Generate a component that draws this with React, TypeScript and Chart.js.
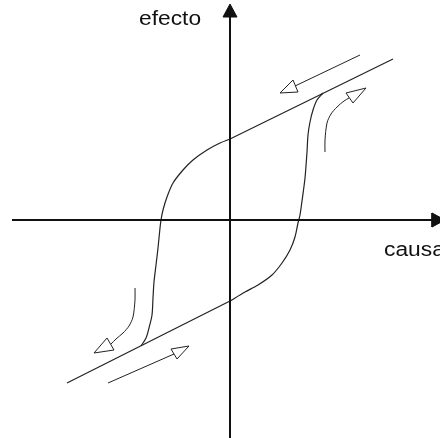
import React, { useEffect, useRef } from "react";
import { Chart, registerables } from "chart.js";

Chart.register(...registerables);

// Hysteresis loop (coordinates relative to the origin, y up)
const upperLine: number[][] = [[163, 161], [0, 81]];
const upperCurve: number[][] = [[0, 81], [-10, 77], [-23, 70], [-37, 60], [-47, 50], [-57, 37], [-63, 23], [-67, 10], [-69, 0], [-70, -8], [-72, -28], [-74, -45], [-76, -62], [-77, -78], [-78, -95], [-81, -108], [-84, -118], [-89, -126]];
const lowerLine: number[][] = [[-163, -163], [0, -81]];
const lowerCurve: number[][] = [[0, -81], [15, -72], [28, -65], [42, -55], [52, -43], [60, -30], [65, -17], [68, -3], [70, 5], [72, 19], [75, 42], [77, 68], [78, 85], [80, 98], [83, 110], [87, 120], [93, 127]];

// Direction arrows
const arrow1Shaft: number[][] = [[130, 165], [65, 134]];
const arrow1Head: number[][] = [[50, 127], [63, 140], [68, 128], [50, 127]];
const arrow2Shaft: number[][] = [[95, 68], [95, 80], [97, 97], [101, 106], [107, 113], [114, 119], [119, 122]];
const arrow2Head: number[][] = [[136, 132], [116, 127], [123, 117], [136, 132]];
const arrow3Shaft: number[][] = [[-95, -68], [-95, -80], [-97, -97], [-101, -106], [-107, -113], [-114, -119], [-119, -124]];
const arrow3Head: number[][] = [[-136, -133], [-123, -118], [-116, -130], [-136, -133]];
const arrow4Shaft: number[][] = [[-122, -163], [-56, -134]];
const arrow4Head: number[][] = [[-41, -126], [-59, -129], [-53, -139], [-41, -126]];

// Axes
const vAxis: number[][] = [[0, -218], [0, 203]];
const vHead: number[][] = [[0, 216], [-7, 203], [7, 203], [0, 216]];
const hAxis: number[][] = [[-218, 0], [202, 0]];
const hHead: number[][] = [[215, 0], [202, 7], [202, -7], [215, 0]];

// Axis titles
const axisLabels = [
  { text: "efecto", x: -91, y: 195 },
  { text: "causa", x: 154, y: -36 },
];

const toPts = (a: number[][]) => a.map(([x, y]) => ({ x, y }));

const LINE = "#222";
const AXIS = "#111";

function ds(pts: number[][], opts: any = {}) {
  return {
    data: toPts(pts),
    showLine: true,
    borderColor: LINE,
    borderWidth: 1.2,
    pointRadius: 0,
    pointHoverRadius: 0,
    tension: 0,
    fill: false,
    ...opts,
  };
}

const labelPlugin = {
  id: "labels",
  afterDraw(chart: any) {
    const ctx = chart.ctx;
    const xs = chart.scales.x;
    const ys = chart.scales.y;
    ctx.save();
    ctx.fillStyle = AXIS;
    ctx.font = '20px "Liberation Sans", Arial, sans-serif';
    ctx.textBaseline = "alphabetic";
    ctx.textAlign = "left";
    for (const l of axisLabels) {
      const px = xs.getPixelForValue(l.x);
      const py = ys.getPixelForValue(l.y);
      ctx.save();
      ctx.translate(px, py);
      ctx.scale(1.14, 1);
      ctx.fillText(l.text, 0, 0);
      ctx.restore();
    }
    ctx.restore();
  },
};

export default function App() {
  const ref = useRef<HTMLCanvasElement>(null);
  useEffect(() => {
    if (!ref.current) return;
    const chart = new Chart(ref.current, {
      type: "scatter",
      data: {
        datasets: [
          ds(vAxis, { borderColor: AXIS, borderWidth: 2 }),
          ds(vHead, { borderColor: AXIS, borderWidth: 1, fill: "shape", backgroundColor: AXIS }),
          ds(hAxis, { borderColor: AXIS, borderWidth: 2 }),
          ds(hHead, { borderColor: AXIS, borderWidth: 1, fill: "shape", backgroundColor: AXIS }),
          ds(upperLine),
          ds(upperCurve, { tension: 0.3 }),
          ds(lowerLine),
          ds(lowerCurve, { tension: 0.3 }),
          ds(arrow1Shaft, { borderWidth: 1 }),
          ds(arrow1Head, { borderWidth: 1 }),
          ds(arrow2Shaft, { borderWidth: 1, tension: 0.3 }),
          ds(arrow2Head, { borderWidth: 1 }),
          ds(arrow3Shaft, { borderWidth: 1, tension: 0.3 }),
          ds(arrow3Head, { borderWidth: 1 }),
          ds(arrow4Shaft, { borderWidth: 1 }),
          ds(arrow4Head, { borderWidth: 1 }),
        ] as any,
      },
      options: {
        animation: false,
        responsive: false,
        maintainAspectRatio: false,
        layout: { padding: 0 },
        plugins: { legend: { display: false }, tooltip: { enabled: false } },
        events: [],
        scales: {
          x: { type: "linear", min: -230, max: 210, display: false },
          y: { type: "linear", min: -218, max: 220, display: false },
        },
      },
      plugins: [labelPlugin],
    });
    return () => chart.destroy();
  }, []);
  return (
    <div style={{ position: "absolute", left: 0, top: 0, width: 440, height: 438, background: "#fff" }}>
      <canvas ref={ref} width={440} height={438} style={{ display: "block" }} />
    </div>
  );
}
